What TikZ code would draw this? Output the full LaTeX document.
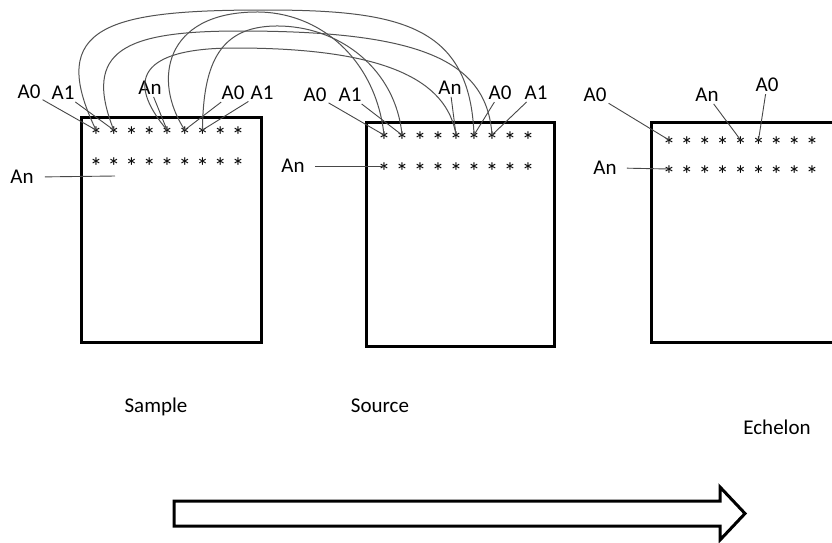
\documentclass[tikz,border=0pt]{standalone}
\usepackage{fontspec}
\setmainfont{Carlito}
\begin{document}
\begin{tikzpicture}[x=1pt,y=1pt,
  lbl/.style={font=\fontsize{21}{25}\selectfont, inner sep=2pt},
  astk/.style={font=\fontsize{25}{29}\selectfont, inner sep=0pt, text height=29.5pt, text depth=0pt},
  box/.style={draw=black, line width=3pt},
  lead/.style={draw=black!72, line width=0.9pt},
  arc/.style={draw=black!68, line width=1pt}]
\useasboundingbox (0,0) rectangle (832,-542);
\fill[white] (0,0) rectangle (832,-542);

% boxes
\draw[box] (81,-117) rectangle (261,-342);
\draw[box] (366,-122) rectangle (554,-346);
\draw[box] (850,-122) -- (651,-122) -- (651,-342) -- (850,-342);

% asterisks
\foreach \i in {0,...,8} {
  \node[astk] (a\i) at ({96+17.75*\i},-130) {*};
  \node[astk] (b\i) at ({96+17.75*\i},-161) {*};
  \node[astk] (c\i) at ({384+18*\i},-135) {*};
  \node[astk] (d\i) at ({384+18*\i},-166) {*};
  \node[astk] (e\i) at ({669+17.9*\i},-140) {*};
  \node[astk] (f\i) at ({669+17.9*\i},-169) {*};
}

% labels box 1
\node[lbl] (p0) at (29,-92) {A0};
\node[lbl] (p1) at (63,-93) {A1};
\node[lbl] (p4) at (150,-88) {An};
\node[lbl] (p5) at (233,-93) {A0};
\node[lbl] (p6) at (262,-93) {A1};
\node[lbl] (pn) at (22,-177) {An};
\coordinate (pe) at (115,-176);
% labels box 2
\node[lbl] (q0) at (315,-95) {A0};
\node[lbl] (q1) at (350,-95) {A1};
\node[lbl] (q4) at (450,-88) {An};
\node[lbl] (q5) at (500,-93) {A0};
\node[lbl] (q6) at (536,-93) {A1};
\node[lbl] (qn) at (293,-166) {An};
% labels box 3
\node[lbl] (r0) at (595,-95) {A0};
\node[lbl] (r4) at (707,-95) {An};
\node[lbl] (r5) at (767,-85) {A0};
\node[lbl] (rn) at (605,-168) {An};

% leader lines
\draw[lead] (p0) -- (a0.center);
\draw[lead] (p1) -- (a1.center);
\draw[lead] (p4) -- (a4.center);
\draw[lead] (p5) -- (a5.center);
\draw[lead] (p6) -- (a6.center);
\draw[lead, shorten <=9pt] (pn.east) -- (pe);
\draw[lead] (q0) -- (c0.center);
\draw[lead] (q1) -- (c1.center);
\draw[lead] (q4) -- (c4.center);
\draw[lead] (q5) -- (c5.center);
\draw[lead] (q6) -- (c6.center);
\draw[lead, shorten <=8pt] (qn.east) -- (d0.center);
\draw[lead] (r0) -- (e0.center);
\draw[lead] (r4) -- (e4.center);
\draw[lead] (r5) -- (e5.center);
\draw[lead, shorten <=8pt] (rn.east) -- (f0.center);

% arcs from Sample to Source
\draw[arc] (a0.center) .. controls (45,-25) and (110,-10) .. (265,-10)
                       .. controls (400,-10) and (470,-25) .. (c5.center);
\draw[arc] (a1.center) .. controls (82,-50) and (125,-31) .. (240,-31)
                       .. controls (420,-31) and (487,-60) .. (c6.center);
\draw[arc] (a4.center) .. controls (125,-80) and (140,-48) .. (235,-48)
                       .. controls (385,-48) and (447,-80) .. (c4.center);
\draw[arc] (a5.center) .. controls (152,-80) and (165,-13) .. (255,-12)
                       .. controls (320,-11) and (376,-60) .. (c0.center);
\draw[arc] (a6.center) .. controls (203,-60) and (222,-27) .. (275,-26)
                       .. controls (340,-25) and (396,-70) .. (c1.center);

% titles
\node[lbl] (ts) at (156,-407) {Sample};
\node[lbl] (to) at (380,-406) {Source};
\node[lbl] (te) at (777,-427) {Echelon};

% big arrow
\draw[line width=3pt, line join=miter] (174,-501) -- (720,-501) -- (720,-487) -- (745,-513.5)
  -- (720,-540) -- (720,-526) -- (174,-526) -- cycle;
\end{tikzpicture}
\end{document}
